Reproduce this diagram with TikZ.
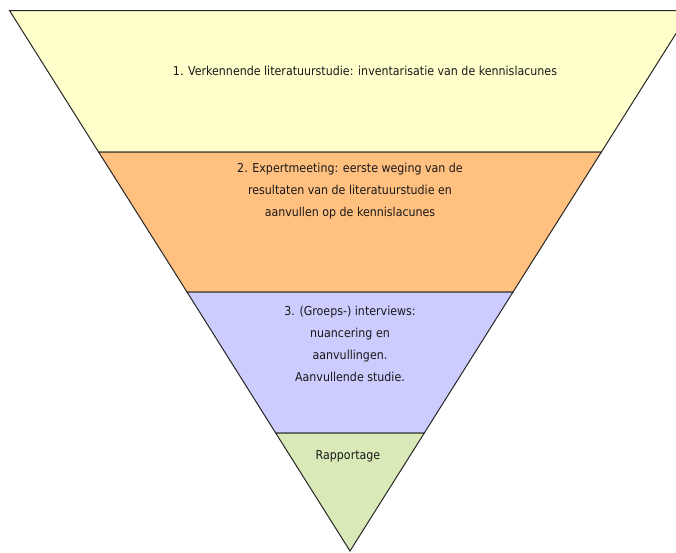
\documentclass[tikz,border=0pt]{standalone}
\usepackage{fontspec}
\setmainfont{DejaVu Sans Condensed}
\begin{document}
\begin{tikzpicture}[x=1pt,y=-1pt,
  band/.style={draw=black!85, line width=1pt, line join=miter},
  lbl/.style={font=\fontsize{12.3}{22}\selectfont, text=black!90, align=center, inner sep=0pt}]
\useasboundingbox (0,0) rectangle (676,552);
\definecolor{cyel}{RGB}{255,255,204}
\definecolor{corg}{RGB}{255,192,128}
\definecolor{cpur}{RGB}{204,204,255}
\definecolor{cgrn}{RGB}{217,234,184}
\begin{scope}
\clip (0,0) rectangle (676,552);
\coordinate (a0) at (9.5,10.5);  \coordinate (b0) at (690.5,10.5);
\coordinate (a1) at (98.6,152);  \coordinate (b1) at (601.4,152);
\coordinate (a2) at (187,292);   \coordinate (b2) at (513,292);
\coordinate (a3) at (275.7,433); \coordinate (b3) at (424.3,433);
\coordinate (ap) at (350,551);
\filldraw[band, fill=cyel] (a0) -- (b0) -- (b1) -- (a1) -- cycle;
\filldraw[band, fill=corg] (a1) -- (b1) -- (b2) -- (a2) -- cycle;
\filldraw[band, fill=cpur] (a2) -- (b2) -- (b3) -- (a3) -- cycle;
\filldraw[band, fill=cgrn] (a3) -- (b3) -- (ap) -- cycle;
\end{scope}
\node[lbl] (t1) at (365,71) {1. Verkennende literatuurstudie: inventarisatie van de kennislacunes};
\node[lbl] (t2) at (350,191) {2. Expertmeeting: eerste weging van de\\resultaten van de literatuurstudie en\\aanvullen op de kennislacunes};
\node[lbl] (t3) at (350,344) {3. (Groeps-) interviews:\\nuancering en\\aanvullingen.\\Aanvullende studie.};
\node[lbl] (t4) at (348,456) {Rapportage};
\end{tikzpicture}
\end{document}
